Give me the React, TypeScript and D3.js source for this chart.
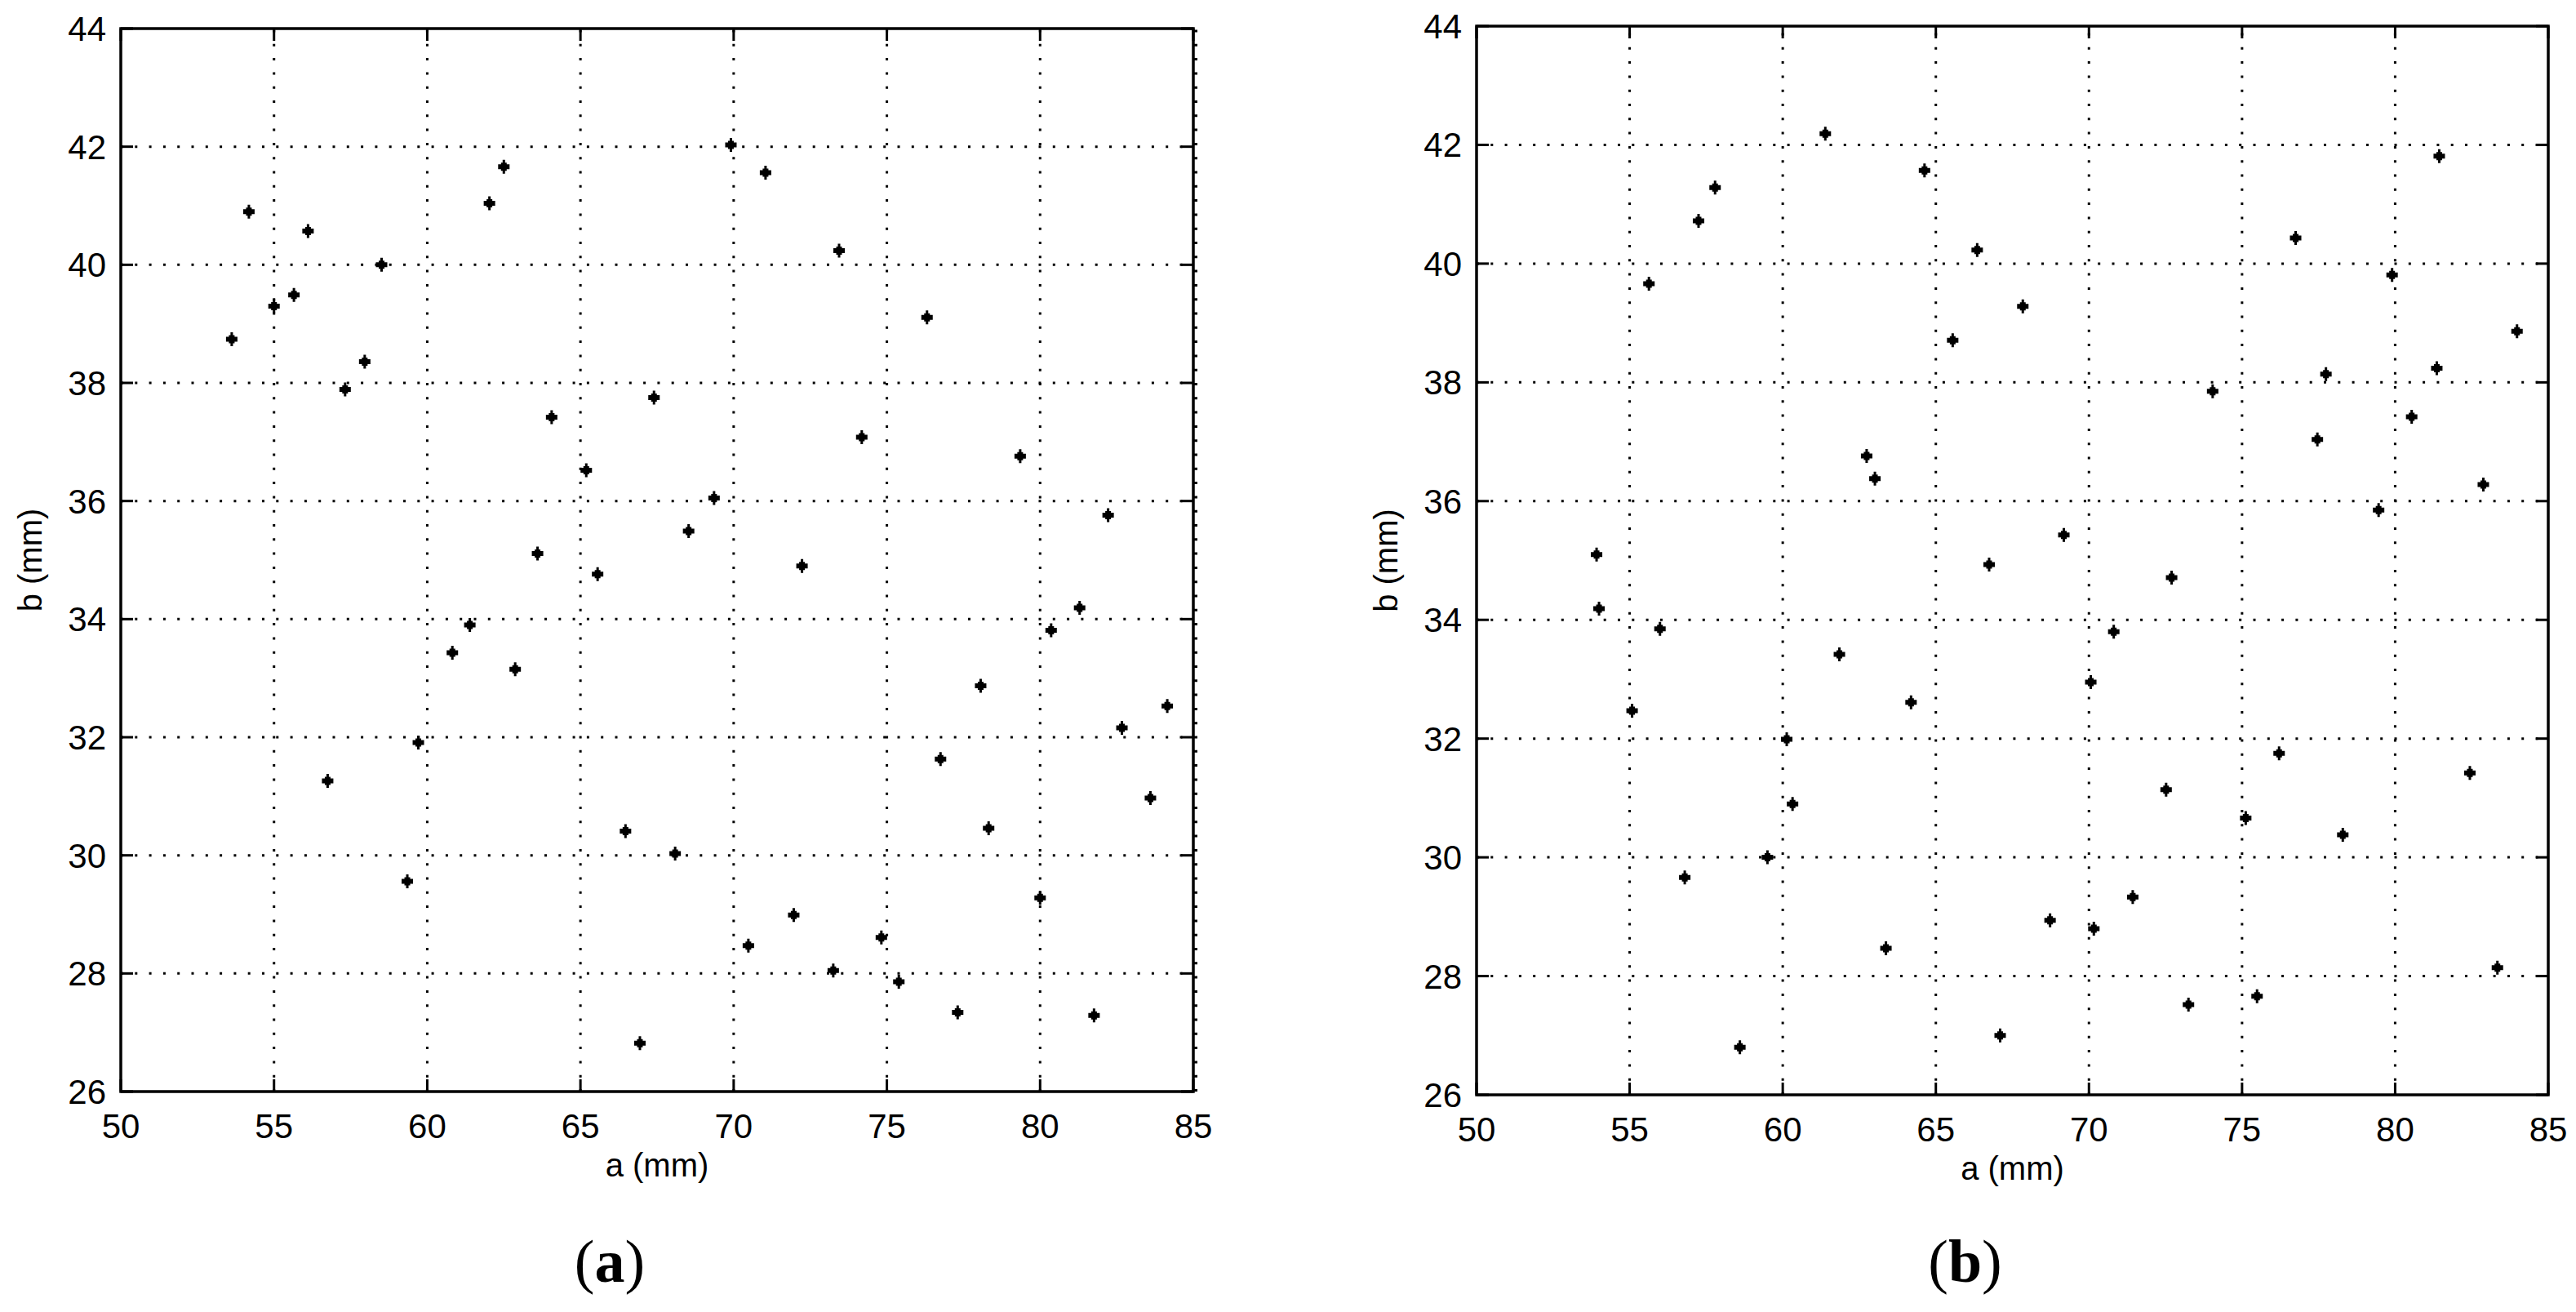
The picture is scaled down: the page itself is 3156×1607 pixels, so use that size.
import React from "react";
import * as d3 from "d3";

// panel (a)
const aValuesA = [54.18, 56.11, 58.51, 55.65, 55.0, 53.62, 57.96, 57.32, 62.03, 62.5, 64.06, 67.4, 65.19, 63.6,
  69.91, 71.04, 73.44, 76.31, 74.18, 79.35, 69.36, 68.53, 82.22,
  65.56, 61.39, 60.82, 62.87, 59.71, 56.75, 66.47, 68.09, 59.35, 66.94,
  72.23, 81.29, 80.36, 78.06, 84.15, 82.67, 76.75, 83.6, 78.32, 80.0, 71.96, 70.48, 74.82, 73.25, 75.39, 77.31, 81.76];
const bValuesA = [40.9, 40.57, 40.0, 39.49, 39.3, 38.74, 38.36, 37.89, 41.04, 41.66, 37.42, 37.75, 36.52, 35.11,
  42.03, 41.56, 40.24, 39.11, 37.08, 36.76, 36.05, 35.49, 35.76,
  34.76, 33.9, 33.43, 33.15, 31.91, 31.26, 30.41, 30.03, 29.56, 26.82,
  34.9, 34.19, 33.81, 32.87, 32.53, 32.16, 31.63, 30.97, 30.46, 29.28, 28.99, 28.47, 28.61, 28.05, 27.86, 27.34, 27.29];

// panel (b)
const aValuesB = [61.39, 57.79, 57.25, 55.63, 64.63, 66.35, 65.55, 62.74, 63.01, 53.92,
  81.44, 76.75, 79.9, 67.84, 83.98, 81.36, 77.74, 74.04, 80.54, 77.46, 82.88, 79.46, 69.18, 66.74,
  54.0, 55.99, 61.85, 64.19, 55.08, 60.13, 60.32, 59.5, 56.8, 63.37, 58.6,
  72.7, 70.81, 70.06, 76.21, 82.44, 72.52, 75.12, 78.29, 71.43, 68.73, 70.16, 83.34, 75.49, 73.25, 67.1];
const bValuesB = [42.19, 41.28, 40.72, 39.66, 41.57, 40.23, 38.71, 36.76, 36.38, 35.1,
  41.81, 40.43, 39.81, 39.28, 38.86, 38.24, 38.14, 37.85, 37.42, 37.04, 36.28, 35.85, 35.43, 34.93,
  34.19, 33.85, 33.42, 32.61, 32.47, 31.99, 30.9, 30.0, 29.66, 28.47, 26.8,
  34.71, 33.8, 32.95, 31.75, 31.42, 31.14, 30.66, 30.38, 29.33, 28.94, 28.8, 28.14, 27.66, 27.52, 27.0];

const xTicks = [50, 55, 60, 65, 70, 75, 80, 85];
const yTicks = [26, 28, 30, 32, 34, 36, 38, 40, 42, 44];
const xTitle = "a (mm)";
const yTitle = "b (mm)";

const tickFont = "'Liberation Sans Narrow', 'Liberation Sans', Arial, sans-serif";

// plus-like marker
const marker = "M-1.5,-8.5 h3 v3.5 h2 v2 h3.5 v6 h-3.5 v2 h-2 v3.5 h-3 v-3.5 h-2 v-2 h-3.5 v-6 h3.5 v-2 h2 Z";

const Panel = ({ left, right, top, bottom, xs, ys, caption, minorRight }) => {
  const x = d3.scaleLinear().domain([50, 85]).range([left, right]);
  const y = d3.scaleLinear().domain([26, 44]).range([bottom, top]);
  const cx = (left + right) / 2;
  const cy = (top + bottom) / 2;
  const tl = 15;

  return (
    <g>
      {/* grid */}
      {xTicks.slice(1, -1).map((t) => (
        <line key={"gx" + t} x1={x(t)} x2={x(t)} y1={bottom} y2={top}
          stroke="#000" strokeWidth={3} strokeDasharray="3,14.3" />
      ))}
      {yTicks.slice(1, -1).map((t) => (
        <line key={"gy" + t} x1={left} x2={right} y1={y(t)} y2={y(t)}
          stroke="#000" strokeWidth={3} strokeDasharray="3,14.3" />
      ))}

      {/* ticks, inward on all sides */}
      {xTicks.map((t) => (
        <g key={"tx" + t}>
          <line x1={x(t)} x2={x(t)} y1={bottom} y2={bottom - tl} stroke="#000" strokeWidth={3} />
          <line x1={x(t)} x2={x(t)} y1={top} y2={top + tl} stroke="#000" strokeWidth={3} />
          <text x={x(t)} y={bottom + 57} textAnchor="middle" fontFamily={tickFont} fontSize={42}>{t}</text>
        </g>
      ))}
      {yTicks.map((t) => (
        <g key={"ty" + t}>
          <line x1={left} x2={left + tl} y1={y(t)} y2={y(t)} stroke="#000" strokeWidth={3} />
          <line x1={right} x2={right - tl} y1={y(t)} y2={y(t)} stroke="#000" strokeWidth={3} />
          <text x={left - 18} y={y(t) + 15} textAnchor="end" fontFamily={tickFont} fontSize={42}>{t}</text>
        </g>
      ))}

      {minorRight && (
        <line x1={right + 2.5} x2={right + 2.5} y1={bottom} y2={top}
          stroke="#000" strokeWidth={5} strokeDasharray="3,14.3" />
      )}

      {/* frame */}
      <rect x={left} y={top} width={right - left} height={bottom - top}
        fill="none" stroke="#000" strokeWidth={3.5} />

      {/* points */}
      {xs.map((v, i) => (
        <path key={"p" + i} d={marker} transform={`translate(${x(v)},${y(ys[i])})`} fill="#000" />
      ))}

      {/* titles */}
      <text x={cx} y={bottom + 104} textAnchor="middle" fontFamily={tickFont} fontSize={40}>{xTitle}</text>
      <text transform={`translate(${left - 97},${cy}) rotate(-90)`} textAnchor="middle"
        fontFamily={tickFont} fontSize={40}>{yTitle}</text>

      <text x={cx - 58} y={1570} textAnchor="middle" fontFamily="'Liberation Serif', 'Times New Roman', serif" fontSize={74}>
        (<tspan fontWeight="bold">{caption}</tspan>)
      </text>
    </g>
  );
};

export default function App() {
  return (
    <svg width={3156} height={1607} style={{ position: "absolute", left: 0, top: 0, background: "#fff" }}>
      <rect width={3156} height={1607} fill="#fff" />
      <Panel left={148} right={1462} top={35} bottom={1337} xs={aValuesA} ys={bValuesA} caption="a" minorRight={true} />
      <Panel left={1809} right={3122} top={32} bottom={1341} xs={aValuesB} ys={bValuesB} caption="b" minorRight={false} />
    </svg>
  );
}
